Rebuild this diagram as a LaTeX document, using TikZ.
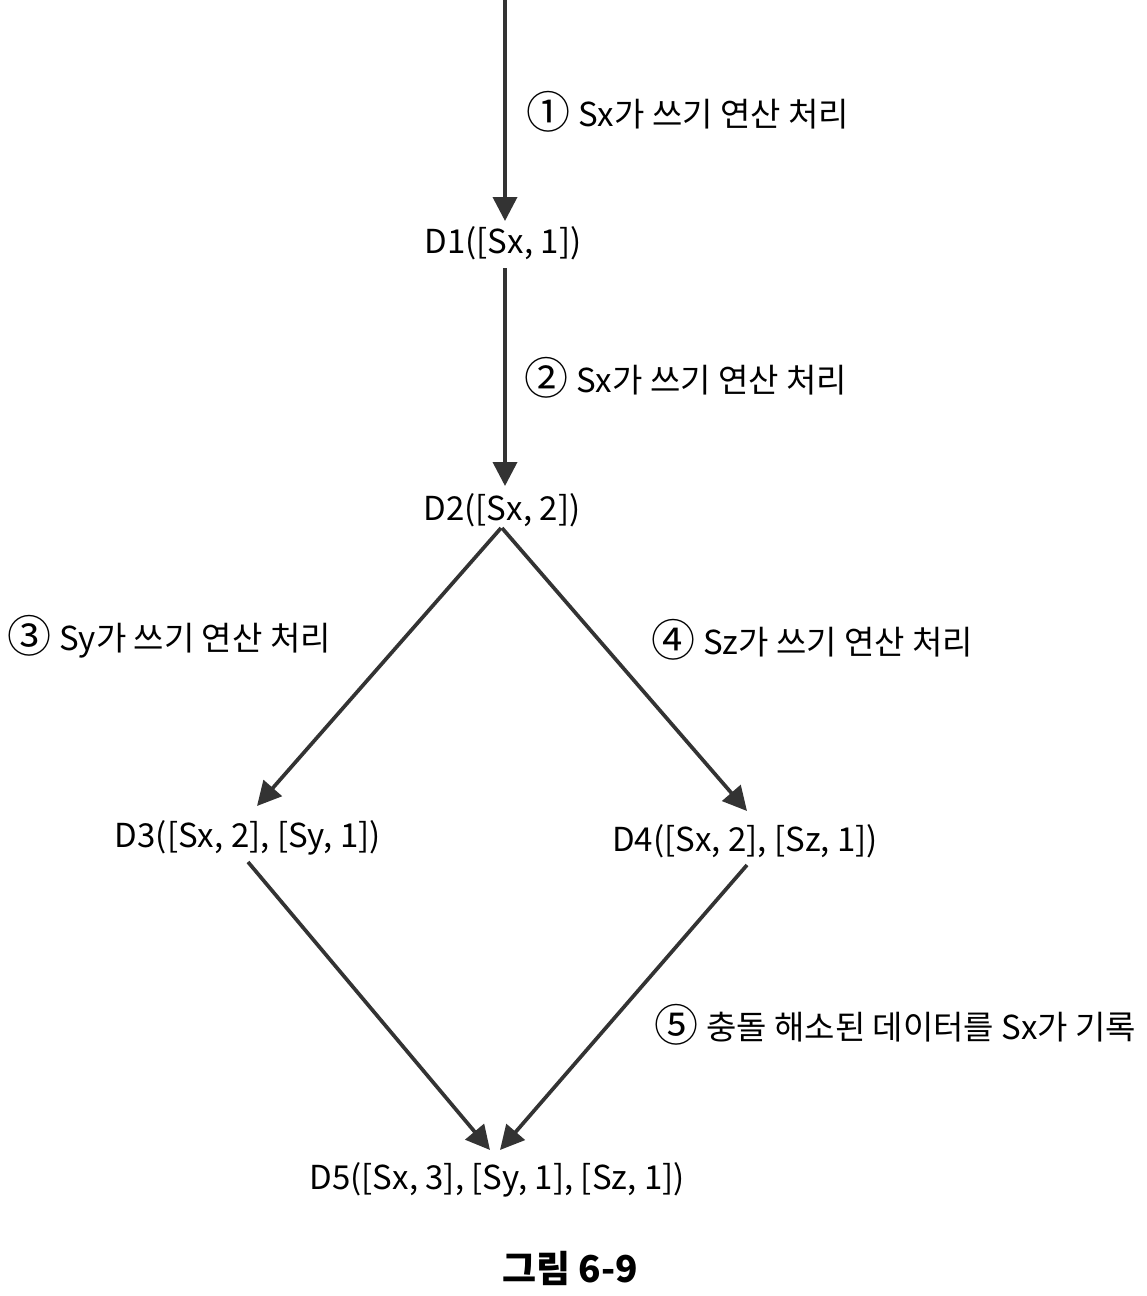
\documentclass[tikz,border=0pt]{standalone}
\usepackage{fontspec}
\setmainfont{Noto Sans CJK KR}
\usetikzlibrary{arrows.meta,calc}
\definecolor{ink}{HTML}{333333}
\newcommand{\circnum}[1]{\raisebox{-2pt}{\fontsize{44}{44}\selectfont #1}\hspace{8pt}}
\begin{document}
\begin{tikzpicture}[x=1pt,y=-1pt,
  state/.style={inner sep=0pt, font=\fontsize{33}{36}\selectfont, text=black},
  lbl/.style={inner sep=0pt, anchor=west, font=\fontsize{33}{36}\selectfont, text=black},
  conn/.style={draw=ink, line width=3.7pt, -{Triangle[length=24pt,width=24pt]}}]
\useasboundingbox (0,0) rectangle (1147,1296);
\fill[white] (0,0) rectangle (1147,1296);
\coordinate (top) at (505,0);
\node[state] (d1) at (503,243) {D1([Sx, 1])};
\node[state] (d2) at (502,510) {D2([Sx, 2])};
\node[state] (d3) at (248,838) {D3([Sx, 2], [Sy, 1])};
\node[state] (d4) at (745,841) {D4([Sx, 2], [Sz, 1])};
\node[state] (d5) at (497,1180) {D5([Sx, 3], [Sy, 1], [Sz, 1])};
\node[lbl] (l1) at (526,112) {\circnum{①}Sx가 쓰기 연산 처리};
\node[lbl] (l2) at (524,378) {\circnum{②}Sx가 쓰기 연산 처리};
\node[lbl] (l3) at (7,637) {\circnum{③}Sy가 쓰기 연산 처리};
\node[lbl] (l4) at (651,640) {\circnum{④}Sz가 쓰기 연산 처리};
\node[lbl] (l5) at (654,1025) {\circnum{⑤}충돌 해소된 데이터를 Sx가 기록};
\node[inner sep=0pt, font=\fontsize{37}{40}\selectfont\bfseries] (cap) at (570,1268) {그림 6-9};
\draw[conn] (top) -- ($(d1)+(2,-22)$);
\draw[conn] ($(d1)+(2,25)$) -- ($(d2)+(3,-24)$);
\draw[conn] ($(d2)+(-1,18)$) -- ($(d3)+(9,-32)$);
\draw[conn] ($(d2)+(0,18)$) -- ($(d4)+(2,-30)$);
\draw[conn] ($(d3)+(0,24)$) -- ($(d5)+(-7,-30)$);
\draw[conn] ($(d4)+(2,24)$) -- ($(d5)+(3,-30)$);
\end{tikzpicture}
\end{document}
